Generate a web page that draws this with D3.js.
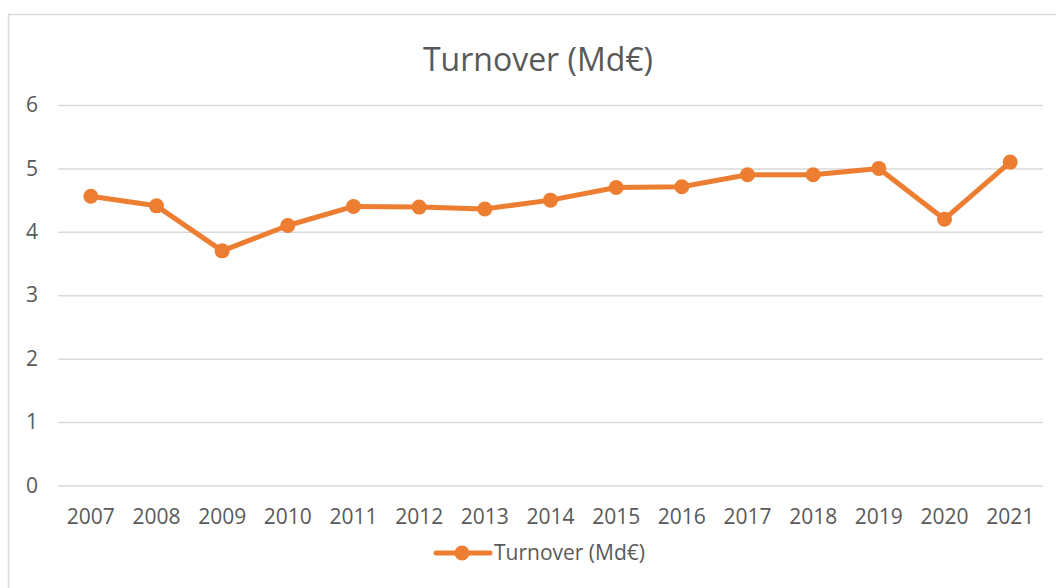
<!DOCTYPE html>
<html><head><meta charset="utf-8">
<script src="https://cdn.jsdelivr.net/npm/d3@7"></script>
<style>body{margin:0;background:#fff;} svg{display:block;font-family:"Open Sans",sans-serif;}</style>
</head><body>
<svg id="c" width="1056" height="588"></svg>
<script>
const years = ["2007","2008","2009","2010","2011","2012","2013","2014","2015","2016","2017","2018","2019","2020","2021"];
const turnover = [4.56,4.41,3.70,4.10,4.40,4.39,4.36,4.50,4.70,4.71,4.90,4.90,5.00,4.20,5.10];
const yTicks = [0,1,2,3,4,5,6];
const seriesName = "Turnover (Md€)";
const titleText = "Turnover (Md€)";

const svg = d3.select("#c");
const orange = "#ED7D31", txt = "#595959", grid = "#D9D9D9";

svg.append("rect").attr("x",8.5).attr("y",14.5).attr("width",1100).attr("height",600)
  .attr("fill","#fff").attr("stroke","#D9D9D9").attr("stroke-width",1.5);

const x = d3.scaleBand().domain(years).range([58,1043]);
const y = d3.scaleLinear().domain([0,6]).range([485.5,105]);

svg.append("text").attr("x",538).attr("y",71).attr("text-anchor","middle")
  .attr("font-size",32).attr("fill",txt).text(titleText);

const yAxis = svg.append("g").attr("transform","translate(58,0)")
  .call(d3.axisLeft(y).tickValues(yTicks).tickSize(-985).tickPadding(20).tickFormat(d3.format("d")));
yAxis.select(".domain").remove();
yAxis.selectAll("line").attr("stroke",grid).attr("stroke-width",1.5);
yAxis.selectAll("text").attr("font-size",21).attr("fill",txt).attr("font-family","Open Sans");

const xAxis = svg.append("g").attr("transform","translate(0,485.5)")
  .call(d3.axisBottom(x).tickSize(0).tickPadding(24));
xAxis.select(".domain").remove();
xAxis.selectAll("text").attr("font-size",21).attr("fill",txt).attr("font-family","Open Sans");

const line = d3.line().x((d,i)=>x(years[i])+x.bandwidth()/2).y(d=>y(d));
svg.append("path").datum(turnover).attr("d",line).attr("fill","none")
  .attr("stroke",orange).attr("stroke-width",5).attr("stroke-linejoin","round");
svg.selectAll("circle.pt").data(turnover).join("circle").attr("class","pt")
  .attr("cx",(d,i)=>x(years[i])+x.bandwidth()/2).attr("cy",d=>y(d)).attr("r",7.5).attr("fill",orange);

const lg = svg.append("g");
lg.append("line").attr("x1",436).attr("x2",490).attr("y1",553).attr("y2",553)
  .attr("stroke",orange).attr("stroke-width",5).attr("stroke-linecap","round");
lg.append("circle").attr("cx",462).attr("cy",553).attr("r",7.5).attr("fill",orange);
lg.append("text").attr("x",494).attr("y",553).attr("dy","0.35em").attr("font-size",21)
  .attr("fill",txt).text(seriesName);
</script>
</body></html>
